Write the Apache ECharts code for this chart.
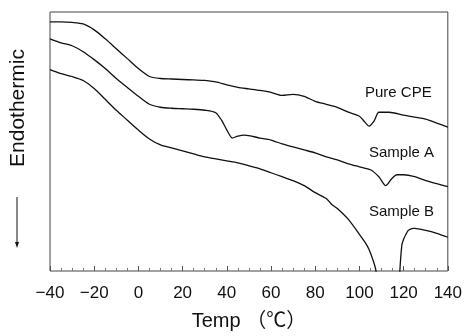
<!DOCTYPE html>
<html>
<head>
<meta charset="utf-8">
<script src="https://cdn.jsdelivr.net/npm/echarts@6/dist/echarts.min.js"></script>
<style>
  html, body { margin: 0; padding: 0; background: #fff; }
  #chart { width: 465px; height: 336px; }
</style>
</head>
<body>
<div id="chart"></div>
<script>
// DSC curves, heat flow in arbitrary units
const tempCPE = [-40, -35, -30, -25, -20, -15, -10, -5, 0, 5, 10, 15, 20, 25, 30, 35, 40, 45, 50, 55, 60, 65, 70, 75, 80, 85, 90, 95, 100, 102.5, 104.3, 106.6, 108.8, 113.4, 120, 125, 130, 135, 140];
const valCPE  = [251, 251, 250.5, 249, 243, 234, 224, 214, 204, 196, 194, 193.5, 193, 192.5, 192, 190.5, 187.5, 185, 183.5, 182, 180, 177, 178, 176, 171, 168, 165, 160, 156, 150, 146, 151, 160, 160, 157, 155, 153, 149, 145];

const tempA = [-40, -35, -30, -25, -20, -15, -10, -5, 0, 5, 10, 15, 20, 25, 30, 35, 37.6, 39.8, 42.5, 45, 48, 55, 60, 65, 70, 75, 80, 85, 90, 95, 100, 105, 108.8, 111.9, 114.6, 117, 120, 125, 130, 135, 140];
const valA  = [234, 230, 227, 221, 213, 204, 194, 185, 176, 168, 165, 164, 163.5, 163, 162, 159.5, 152, 143, 134, 136, 137, 134, 132, 128, 125, 122, 119, 115, 112, 108, 105, 102, 95, 86, 93, 97, 97, 95, 91, 88, 85];

const tempB = [-40, -35, -30, -25, -20, -15, -10, -5, 0, 5, 10, 15, 20, 25, 30, 35, 40, 45, 50, 55, 60, 65, 70, 75, 80, 85, 87.5, 90, 95, 100, 102.5, 104.3, 106, 107.5, 108.5, 117.5, 118.3, 119.2, 120, 121.3, 122.2, 124.4, 125, 130, 135, 140];
const valB  = [203, 199, 196, 192, 184, 173, 162, 152, 142, 133, 127, 124, 121, 118, 115, 113, 111, 109, 106, 103, 99, 95, 91, 86, 79, 73, 67, 63, 52, 37, 29, 22, 12, 0, -40, -40, 0, 26, 32, 38, 41, 43, 43, 41, 38, 34];

const seriesNames = ['Pure CPE', 'Sample A', 'Sample B'];
const xTicks = [-40, -20, 0, 20, 40, 60, 80, 100, 120, 140];

function pairs(t, v) {
    return t.map((x, i) => [x, v[i]]);
}

let chart = echarts.init(document.getElementById('chart'));

const font = '"Liberation Sans", Arial, sans-serif';

function lineSeries(name, t, v) {
    return {
        name: name,
        type: 'line',
        data: pairs(t, v),
        showSymbol: false,
        smooth: 0.25,
        clip: true,
        lineStyle: { color: '#111', width: 1.3 }
    };
}

chart.setOption({
    animation: false,
    grid: {
        left: 50, right: 16, top: 12, bottom: 63,
        show: true, borderColor: '#444', borderWidth: 1
    },
    xAxis: {
        type: 'value',
        min: -40, max: 140, interval: 20,
        axisLine: { show: false },
        axisTick: { show: true, inside: true, length: 5, lineStyle: { color: '#555' } },
        minorTick: { show: true, splitNumber: 4, length: 3, lineStyle: { color: '#777' } },
        splitLine: { show: false },
        axisLabel: {
            margin: 14,
            fontFamily: font, fontSize: 17, color: '#111',
            formatter: function (v) {
                return xTicks.indexOf(v) >= 0 ? String(v).replace('-', '\u2212') : '';
            }
        },
        name: 'Temp \uFF08\u2103\uFF09',
        nameLocation: 'middle',
        nameGap: 40,
        nameTextStyle: { fontFamily: '"Liberation Sans", "Noto Sans CJK JP", sans-serif', fontSize: 20, color: '#111' }
    },
    yAxis: {
        type: 'value',
        min: 0, max: 261,
        axisLine: { show: false },
        axisTick: { show: false },
        axisLabel: { show: false },
        splitLine: { show: false }
    },
    series: [
        lineSeries(seriesNames[0], tempCPE, valCPE),
        lineSeries(seriesNames[1], tempA, valA),
        lineSeries(seriesNames[2], tempB, valB)
    ],
    graphic: [
        {
            type: 'text', x: 18, y: 108, rotation: Math.PI / 2,
            style: { text: 'Endothermic', font: '21px ' + font, fill: '#111', align: 'center', verticalAlign: 'middle' }
        },
        {
            type: 'line',
            shape: { x1: 17, y1: 197, x2: 17, y2: 243 },
            style: { stroke: '#111', lineWidth: 1 }
        },
        {
            type: 'polygon',
            shape: { points: [[15, 242], [19, 242], [17, 248]] },
            style: { fill: '#111' }
        },
        {
            type: 'text', x: 365, y: 93,
            style: { text: seriesNames[0], font: '15px ' + font, fill: '#111', verticalAlign: 'middle' }
        },
        {
            type: 'text', x: 369, y: 153,
            style: { text: seriesNames[1], font: '15px ' + font, fill: '#111', verticalAlign: 'middle' }
        },
        {
            type: 'text', x: 369, y: 212,
            style: { text: seriesNames[2], font: '15px ' + font, fill: '#111', verticalAlign: 'middle' }
        }
    ]
});
</script>
</body>
</html>
